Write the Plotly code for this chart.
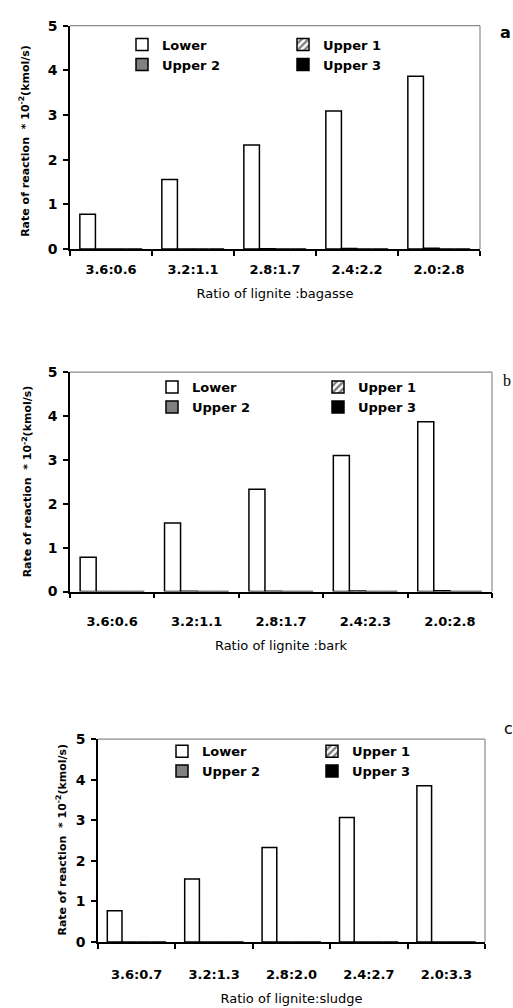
import plotly.graph_objects as go

W, H = 513, 1008

categories_a = ["3.6:0.6", "3.2:1.1", "2.8:1.7", "2.4:2.2", "2.0:2.8"]
categories_b = ["3.6:0.6", "3.2:1.1", "2.8:1.7", "2.4:2.3", "2.0:2.8"]
categories_c = ["3.6:0.7", "3.2:1.3", "2.8:2.0", "2.4:2.7", "2.0:3.3"]

lower_a = [0.78, 1.56, 2.33, 3.09, 3.87]
upper1_a = [0.0, 0.005, 0.01, 0.015, 0.02]
upper2_a = [0.0, 0.0, 0.0, 0.0, 0.0]
upper3_a = [0.0, 0.0, 0.0, 0.0, 0.0]

lower_b = [0.78, 1.56, 2.33, 3.10, 3.87]
upper1_b = [0.0, 0.01, 0.01, 0.015, 0.02]
upper2_b = [0.0, 0.0, 0.0, 0.0, 0.0]
upper3_b = [0.0, 0.0, 0.0, 0.0, 0.0]

lower_c = [0.77, 1.55, 2.33, 3.07, 3.85]
upper1_c = [0.0, 0.0, 0.0, 0.0, 0.0]
upper2_c = [0.0, 0.0, 0.0, 0.0, 0.0]
upper3_c = [0.0, 0.0, 0.0, 0.0, 0.0]

series_names = ["Lower", "Upper 1", "Upper 2", "Upper 3"]
x_titles = ["Ratio of lignite :bagasse", "Ratio of lignite :bark", "Ratio of lignite:sludge"]
y_title = "Rate of reaction  * 10<sup>-2</sup>(kmol/s)"
panel_tags = ["a", "b", "c"]

FONT = "DejaVu Sans"

def px_x(v):
    return v / W

def px_y(v):
    return 1 - v / H

# panel pixel boxes: left, right, top, bottom
boxes = [(70, 480, 18, 245), (70, 492, 370, 593), (98, 485, 743, 949)]
xlabel_standoff = [8, 17, 20]
xtitle_standoff = [12, 13, 13]

panels = [
    (categories_a, [lower_a, upper1_a, upper2_a, upper3_a]),
    (categories_b, [lower_b, upper1_b, upper2_b, upper3_b]),
    (categories_c, [lower_c, upper1_c, upper2_c, upper3_c]),
]

styles = [
    dict(color="white", pattern=None),
    dict(color="white", pattern=dict(shape="/", fgcolor="black", bgcolor="white", size=6, solidity=0.5)),
    dict(color="#808080", pattern=None),
    dict(color="black", pattern=None),
]

# legend positions: (text_x col1, text_x col2, row1 y)
legend_pos = [(162, 323, 45), (192, 358, 393), (202, 352, 763)]

fig = go.Figure()
layout = dict(
    width=W, height=H, margin=dict(l=0, r=0, t=0, b=0),
    paper_bgcolor="white", plot_bgcolor="white",
    barmode="group", bargap=0.24, bargroupgap=0,
    font=dict(family=FONT, color="black"),
    showlegend=True,
)
shapes = []
annotations = []

for i, (cats, series) in enumerate(panels):
    sfx = "" if i == 0 else str(i + 1)
    xa, ya = "x" + sfx, "y" + sfx
    l, r, t, b = boxes[i]
    lg1 = "legend" if i == 0 else "legend" + str(2 * i + 1)
    lg2 = "legend" + str(2 * i + 2)
    for j, (name, vals) in enumerate(zip(series_names, series)):
        st = styles[j]
        marker = dict(color=st["color"], line=dict(color="black", width=1.5))
        if st["pattern"]:
            marker["pattern"] = st["pattern"]
        fig.add_trace(go.Bar(
            x=cats, y=vals, name=name, xaxis=xa, yaxis=ya, marker=marker,
            legend=lg1 if j in (0, 2) else lg2, hoverinfo="x+y+name",
        ))
    layout["xaxis" + sfx] = dict(
        domain=[px_x(l), px_x(r)], anchor=ya, type="category",
        showline=True, linecolor="black", linewidth=1.5,
        ticks="outside", tickson="boundaries", ticklen=5, tickwidth=1.5, tickcolor="black",
        ticklabelstandoff=xlabel_standoff[i],
        tickfont=dict(family=FONT, size=13, weight="bold"),
        showgrid=False, zeroline=False, fixedrange=True,
        title=dict(text=x_titles[i], font=dict(family=FONT, size=13), standoff=xtitle_standoff[i]),
    )
    layout["yaxis" + sfx] = dict(
        domain=[px_y(b), px_y(t)], anchor=xa, range=[0, 5], dtick=1,
        showline=True, linecolor="black", linewidth=1.5,
        ticks="outside", ticklen=5, tickwidth=1.5, tickcolor="black",
        ticklabelstandoff=3,
        tickfont=dict(family=FONT, size=14, weight="bold"),
        showgrid=False, zeroline=False, fixedrange=True,
    )
    # gray top and right frame
    shapes.append(dict(type="line", xref=xa + " domain", yref=ya + " domain",
                       x0=0, x1=1, y0=1, y1=1, line=dict(color="#8a8a8a", width=1.2)))
    shapes.append(dict(type="line", xref=xa + " domain", yref=ya + " domain",
                       x0=1, x1=1, y0=0, y1=1, line=dict(color="#8a8a8a", width=1.2)))
    # y title
    ytx = [25, 27, 62][i]
    yty = [135, 481, 845][i]
    annotations.append(dict(text=y_title, xref="paper", yref="paper",
                            x=px_x(ytx), y=px_y(yty), textangle=-90, showarrow=False,
                            font=dict(family=FONT, size=11, weight="bold"),
                            xanchor="center", yanchor="middle"))
    # panel tag
    tagx, tagy = [(505, 25), (507, 378), (508, 732)][i]
    annotations.append(dict(text=panel_tags[i], xref="paper", yref="paper",
                            x=px_x(tagx), y=px_y(tagy), showarrow=False,
                            font=dict(family="Liberation Serif" if i == 1 else FONT, size=16,
                                      weight="bold" if i == 0 else "normal"),
                            xanchor="center", yanchor="middle"))
    # legends
    tx1, tx2, ry = legend_pos[i]
    for lg, tx in ((lg1, tx1), (lg2, tx2)):
        layout[lg] = dict(
            x=px_x(tx - 40), y=px_y(ry - 23), xanchor="left", yanchor="top",
            orientation="v", bgcolor="rgba(0,0,0,0)", borderwidth=0,
            font=dict(family=FONT, size=13, weight="bold"),
            itemwidth=30, tracegroupgap=0, itemclick=False, itemdoubleclick=False,
        )

layout["shapes"] = shapes
layout["annotations"] = annotations
fig.update_layout(**layout)
fig.write_html("out.html")
